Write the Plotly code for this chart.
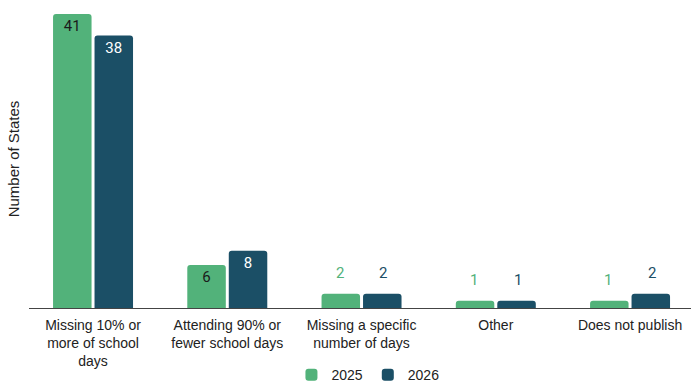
import plotly.graph_objects as go

categories = ["Missing 10% or<br>more of school<br>days", "Attending 90% or<br>fewer school days",
              "Missing a specific<br>number of days", "Other", "Does not publish"]
series_names = ["2025", "2026"]
values_2025 = [41, 6, 2, 1, 1]
values_2026 = [38, 8, 2, 1, 2]

GREEN = "#52b27a"
TEAL = "#1b4f66"
INSIDE_MIN = 5  # values at or above this get the label inside the bar

fig = go.Figure()
for name, vals, color, inside_col in [(series_names[0], values_2025, GREEN, "#1a1a1a"),
                                      (series_names[1], values_2026, TEAL, "#ffffff")]:
    texts = [str(v) if v >= INSIDE_MIN else "" for v in vals]
    fig.add_trace(go.Bar(
        x=list(range(len(categories))), y=vals, name=name,
        marker=dict(color=color, line=dict(width=0), cornerradius=3),
        text=texts, textposition="inside", insidetextanchor="end",
        insidetextfont=dict(family="Roboto", size=15, color=inside_col),
        hoverinfo="skip",
    ))

annotations = []
offsets = [-0.162, 0.162]
for k, (vals, color) in enumerate([(values_2025, GREEN), (values_2026, TEAL)]):
    for i, v in enumerate(vals):
        if v < INSIDE_MIN:
            annotations.append(dict(
                x=i + offsets[k], y=v, xref="x", yref="y", text=str(v), showarrow=False,
                yanchor="middle", yshift=21,
                font=dict(family="Roboto", size=15, color=color)))

fig.update_layout(
    width=691, height=386,
    margin=dict(l=29, r=0, t=10, b=78, autoexpand=False),
    paper_bgcolor="white", plot_bgcolor="white",
    barmode="group", bargap=0.382, bargroupgap=0.072,
    font=dict(family="Liberation Sans, Arial, sans-serif", size=14, color="#222222"),
    showlegend=True,
    legend=dict(orientation="h", x=0.512, xanchor="center", y=-0.225, yanchor="middle",
                font=dict(size=14, color="#222222"), itemwidth=30, traceorder="normal"),
    annotations=annotations,
    xaxis=dict(tickmode="array", tickvals=list(range(len(categories))), ticktext=categories,
               range=[-0.477, 4.454], showline=True, linecolor="#444444", linewidth=1,
               ticks="", showgrid=False, zeroline=False, tickfont=dict(size=14),
               ticklabelstandoff=4, automargin=False),
    yaxis=dict(range=[0, 41.56], showticklabels=False, showgrid=False, zeroline=False,
               ticks="", automargin=False,
               title=dict(text="Number of States", font=dict(size=15), standoff=4)),
)

fig.write_html("out.html")
